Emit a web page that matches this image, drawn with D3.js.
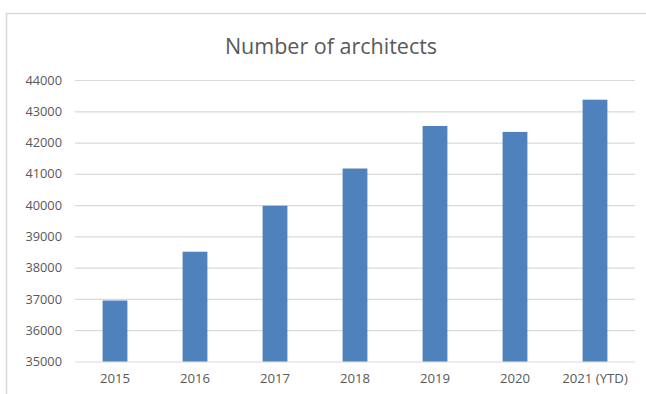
<!DOCTYPE html>
<html>
<head>
<meta charset="utf-8">
<script src="https://cdn.jsdelivr.net/npm/d3@7"></script>
<style>
  body { margin: 0; background: #fff; }
  svg { display: block; font-family: "Open Sans", "Liberation Sans", sans-serif; }
</style>
</head>
<body>
<div id="chart"></div>
<script>
// Number of architects, per year
const years = ["2015", "2016", "2017", "2018", "2019", "2020", "2021 (YTD)"];
const architects = [36950, 38510, 39980, 41170, 42530, 42340, 43370];
const yTicks = [35000, 36000, 37000, 38000, 39000, 40000, 41000, 42000, 43000, 44000];

const W = 646, H = 394;
const margin = { top: 80, right: 11, bottom: 32.5, left: 75 };
const width = W - margin.left - margin.right;
const height = H - margin.top - margin.bottom;

const svg = d3.select("#chart")
    .append("svg")
    .attr("width", W)
    .attr("height", H);

// chart frame (only top and left edges are visible in the crop)
svg.append("rect")
    .attr("x", 6.5)
    .attr("y", 13.5)
    .attr("width", 700)
    .attr("height", 500)
    .attr("fill", "none")
    .attr("stroke", "#d9d9d9")
    .attr("stroke-width", 1.5);

svg.append("text")
    .attr("x", 331)
    .attr("y", 54)
    .attr("text-anchor", "middle")
    .attr("fill", "#595959")
    .style("font-size", "21.5px")
    .text("Number of architects");

const g = svg.append("g")
    .attr("transform", `translate(${margin.left},${margin.top})`);

const x = d3.scaleBand()
    .domain(years)
    .range([0, width])
    .paddingInner(0.69)
    .paddingOuter(0.345);

const y = d3.scaleLinear()
    .domain([35000, 44000])
    .range([height, 0]);

// gridlines
g.append("g")
    .call(d3.axisLeft(y).tickValues(yTicks).tickSize(-width).tickFormat(""))
    .call(a => a.select(".domain").remove())
    .call(a => a.selectAll("line").attr("stroke", "#d9d9d9").attr("stroke-width", 1.2));

// y labels
g.append("g")
    .call(d3.axisLeft(y).tickValues(yTicks).tickSize(0).tickPadding(13).tickFormat(d3.format("d")))
    .call(a => a.select(".domain").remove())
    .call(a => a.selectAll("text")
        .attr("fill", "#595959")
        .style("font-size", "12.8px")
        .style("font-family", "'Open Sans', sans-serif"));

// bars
g.selectAll("rect.bar")
    .data(architects)
    .enter()
    .append("rect")
    .attr("class", "bar")
    .attr("x", (d, i) => x(years[i]))
    .attr("width", x.bandwidth())
    .attr("y", d => y(d))
    .attr("height", d => height - y(d))
    .attr("fill", "#4f81bd");

// x labels
g.append("g")
    .attr("transform", `translate(0,${height})`)
    .call(d3.axisBottom(x).tickSize(0).tickPadding(12))
    .call(a => a.select(".domain").remove())
    .call(a => a.selectAll("text")
        .attr("fill", "#595959")
        .style("font-size", "13.2px")
        .style("font-family", "'Open Sans', sans-serif"));
</script>
</body>
</html>
